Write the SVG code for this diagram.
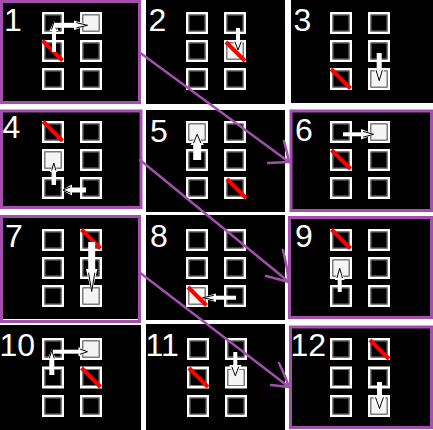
<svg xmlns="http://www.w3.org/2000/svg" xmlns:xlink="http://www.w3.org/1999/xlink" width="433" height="430" viewBox="0 0 433 430">
<style>
.bg{fill:#000}
.bd{fill:#000;stroke:#a24fae;stroke-width:3}
.lb{font-family:"Liberation Sans",Arial,sans-serif;font-size:32px;fill:#fff}
.sl{stroke:#f00;stroke-width:4;fill:none}
.sh{stroke:#fff;fill:none}
.con{stroke:#a24fae;stroke-width:2.5;fill:none;stroke-linecap:round;stroke-linejoin:round}
</style>
<defs>
<g id="cell"><rect x="1.25" y="1.25" width="19.5" height="19.5" fill="none" stroke="#fff" stroke-width="2.5"/><rect x="3" y="3" width="16" height="16" fill="none" stroke="#7a7a7a" stroke-width="1"/></g>
<g id="cellf"><rect x="1.25" y="1.25" width="19.5" height="19.5" fill="none" stroke="#fff" stroke-width="2.5"/><rect x="3" y="3" width="16" height="16" fill="#f4f4f4" stroke="#7a7a7a" stroke-width="1"/></g>
<g id="ah"><path d="M-1,-1 L0,0 L-1,1 Z" fill="#fff"/><path d="M-0.85,-0.55 L-0.1,0 L-0.85,0.55" fill="none" stroke="#000" stroke-width="1" vector-effect="non-scaling-stroke"/></g>
</defs>
<rect width="433" height="430" fill="#fff"/>

<g id="panel1">
<rect class="bd" x="1.5" y="1.5" width="138" height="101"/>
<text class="lb" x="4" y="31">1</text>
<use href="#cell" x="42" y="12"/><use href="#cellf" x="80" y="12"/>
<use href="#cell" x="42" y="40"/><use href="#cell" x="80" y="40"/>
<use href="#cell" x="42" y="68"/><use href="#cell" x="80" y="68"/>
<line class="sl" x1="42.5" y1="40.5" x2="62.5" y2="60.5"/>
<line class="sh" stroke-width="4" x1="54" y1="52" x2="54" y2="30"/>
<use href="#ah" transform="translate(54,21) rotate(-90) scale(10,4.5)"/>
<line class="sh" stroke-width="5" x1="54" y1="25.3" x2="76" y2="25.3"/>
<use href="#ah" transform="translate(89,25.3) rotate(0) scale(15,4.8)"/>
</g>

<g id="panel2">
<rect class="bg" x="146" y="0" width="139" height="104"/>
<text class="lb" x="148.5" y="30.5">2</text>
<use href="#cell" x="186" y="12"/><use href="#cell" x="224" y="12"/>
<use href="#cell" x="186" y="40"/><use href="#cellf" x="224" y="40"/>
<use href="#cell" x="186" y="68"/><use href="#cell" x="224" y="68"/>
<line class="sh" stroke-width="4" x1="238" y1="28" x2="238" y2="41"/>
<use href="#ah" transform="translate(238,51) rotate(90) scale(11,5.8)"/>
<line class="sl" x1="226" y1="42" x2="245" y2="61"/>
</g>

<g id="panel3">
<rect class="bg" x="291" y="0" width="142" height="103"/>
<text class="lb" x="293.5" y="30.5">3</text>
<use href="#cell" x="330" y="12"/><use href="#cell" x="368" y="12"/>
<use href="#cell" x="330" y="40"/><use href="#cell" x="368" y="40"/>
<use href="#cell" x="330" y="68"/><use href="#cellf" x="368" y="68"/>
<line class="sl" x1="331" y1="69" x2="350.5" y2="88.5"/>
<line class="sh" stroke-width="5" x1="379.2" y1="53" x2="379.2" y2="69"/>
<use href="#ah" transform="translate(379.2,82) rotate(90) scale(14,5.8)"/>
</g>

<g id="panel4">
<rect class="bd" x="1.5" y="111" width="139.5" height="96.5"/>
<text class="lb" x="2.5" y="138">4</text>
<use href="#cell" x="42" y="121"/><use href="#cell" x="80" y="121"/>
<use href="#cellf" x="42" y="149"/><use href="#cell" x="80" y="149"/>
<use href="#cell" x="42" y="177"/><use href="#cell" x="80" y="177"/>
<line class="sl" x1="43" y1="121.5" x2="62.5" y2="141"/>
<line class="sh" stroke-width="5" x1="86" y1="190" x2="71" y2="190"/>
<use href="#ah" transform="translate(62,190) rotate(180) scale(10,5.5)"/>
<line class="sh" stroke-width="4.5" x1="53.8" y1="185" x2="53.8" y2="171"/>
<use href="#ah" transform="translate(53.8,162) rotate(-90) scale(10,3.8)"/>
</g>

<g id="panel5">
<rect class="bg" x="146" y="110" width="139" height="102"/>
<text class="lb" x="150" y="141.5">5</text>
<use href="#cellf" x="186" y="121"/><use href="#cell" x="224" y="121"/>
<use href="#cell" x="186" y="149"/><use href="#cell" x="224" y="149"/>
<use href="#cell" x="186" y="177"/><use href="#cell" x="224" y="177"/>
<line class="sl" x1="227" y1="179" x2="246" y2="198"/>
<line class="sh" stroke-width="8" x1="197.2" y1="160" x2="197.2" y2="144"/>
<use href="#ah" transform="translate(197.2,133) rotate(-90) scale(12,6.7)"/>
</g>

<g id="panel6">
<rect class="bd" x="291" y="111" width="140.5" height="99.5"/>
<text class="lb" x="295" y="141">6</text>
<use href="#cell" x="330" y="121"/><use href="#cellf" x="368" y="121"/>
<use href="#cell" x="330" y="149"/><use href="#cell" x="368" y="149"/>
<use href="#cell" x="330" y="177"/><use href="#cell" x="368" y="177"/>
<line class="sl" x1="331.5" y1="150" x2="350.5" y2="169"/>
<line class="sh" stroke-width="4" x1="343" y1="134.3" x2="362" y2="134.3"/>
<use href="#ah" transform="translate(375,134.3) rotate(0) scale(14,5.3)"/>
</g>

<g id="panel7">
<rect class="bd" x="1.5" y="216.5" width="138" height="105"/>
<line x1="3" y1="319.5" x2="138" y2="319.5" stroke="#fff" stroke-width="1"/>
<text class="lb" x="5" y="247">7</text>
<use href="#cell" x="42" y="229"/><use href="#cell" x="80" y="229"/>
<use href="#cell" x="42" y="257"/><use href="#cell" x="80" y="257"/>
<use href="#cell" x="42" y="285"/><use href="#cellf" x="80" y="285"/>
<line class="sl" x1="81.5" y1="229.5" x2="100.5" y2="248.5"/>
<line class="sh" stroke-width="7" x1="91.7" y1="242" x2="91.7" y2="271"/>
<use href="#ah" transform="translate(91.7,294) rotate(90) scale(25,5.7)"/>
</g>

<g id="panel8">
<rect class="bg" x="146" y="215" width="139" height="105"/>
<text class="lb" x="150" y="246.5">8</text>
<use href="#cell" x="186" y="229"/><use href="#cell" x="224" y="229"/>
<use href="#cell" x="186" y="257"/><use href="#cell" x="224" y="257"/>
<use href="#cellf" x="186" y="285"/><use href="#cell" x="224" y="285"/>
<line class="sh" stroke-width="4" x1="236" y1="297.7" x2="215" y2="297.7"/>
<use href="#ah" transform="translate(201,297.7) rotate(180) scale(15,4.2)"/>
<line class="sl" x1="188" y1="287" x2="206.5" y2="305.5"/>
</g>

<g id="panel9">
<rect class="bd" x="289.5" y="217.5" width="142" height="100"/>
<text class="lb" x="295" y="246.5">9</text>
<use href="#cell" x="330" y="229"/><use href="#cell" x="368" y="229"/>
<use href="#cellf" x="330" y="257"/><use href="#cell" x="368" y="257"/>
<use href="#cell" x="330" y="285"/><use href="#cell" x="368" y="285"/>
<line class="sl" x1="331.5" y1="229.5" x2="350.5" y2="248.5"/>
<line class="sh" stroke-width="4" x1="339.7" y1="292" x2="339.7" y2="279"/>
<use href="#ah" transform="translate(339.7,267) rotate(-90) scale(13,5)"/>
</g>

<g id="panel10">
<rect class="bg" x="0" y="325" width="141" height="105"/>
<text class="lb" x="-0.5" y="356">10</text>
<use href="#cell" x="42" y="338"/><use href="#cellf" x="80" y="338"/>
<use href="#cell" x="42" y="366.5"/><use href="#cell" x="80" y="366.5"/>
<use href="#cell" x="42" y="395"/><use href="#cell" x="80" y="395"/>
<line class="sl" x1="81.5" y1="368" x2="100.5" y2="387"/>
<line class="sh" stroke-width="5" x1="51.8" y1="375" x2="51.8" y2="359"/>
<use href="#ah" transform="translate(51.8,349) rotate(-90) scale(11,4.5)"/>
<line class="sh" stroke-width="4" x1="53" y1="351.7" x2="79" y2="351.7"/>
<use href="#ah" transform="translate(88.5,351.7) rotate(0) scale(10,4.7)"/>
</g>

<g id="panel11">
<rect class="bg" x="146" y="324" width="139" height="106"/>
<text class="lb" x="145.5" y="355.5">11</text>
<use href="#cell" x="187" y="338"/><use href="#cell" x="225" y="338"/>
<use href="#cell" x="187" y="366.5"/><use href="#cellf" x="225" y="366.5"/>
<use href="#cell" x="187" y="395"/><use href="#cell" x="225" y="395"/>
<line class="sl" x1="189" y1="368" x2="208" y2="387"/>
<line class="sh" stroke-width="4" x1="235.3" y1="352" x2="235.3" y2="366"/>
<use href="#ah" transform="translate(235.3,377) rotate(90) scale(12,6.2)"/>
</g>

<g id="panel12">
<rect class="bd" x="290.5" y="327" width="141" height="100.5"/>
<text class="lb" x="290.5" y="355.5">12</text>
<use href="#cell" x="330" y="338"/><use href="#cell" x="368" y="338"/>
<use href="#cell" x="330" y="366.5"/><use href="#cell" x="368" y="366.5"/>
<use href="#cell" x="330" y="395"/><use href="#cellf" x="368" y="395"/>
<line class="sl" x1="370" y1="340" x2="389" y2="359"/>
<line class="sh" stroke-width="5" x1="379.5" y1="382" x2="379.5" y2="396"/>
<use href="#ah" transform="translate(379.5,410) rotate(90) scale(15,7.2)"/>
</g>

<g id="connectors">
<path class="con" d="M139,52 L289,162"/>
<path class="con" d="M284,141 Q287,152 289,162 L268,163"/>
<path class="con" d="M140,160 L289,282"/>
<path class="con" d="M283,250 Q287,266 289,282 L266,276"/>
<path class="con" d="M139,272 L289,387"/>
<path class="con" d="M279,363 Q285,375 289,387 L271,385"/>
</g>
</svg>
